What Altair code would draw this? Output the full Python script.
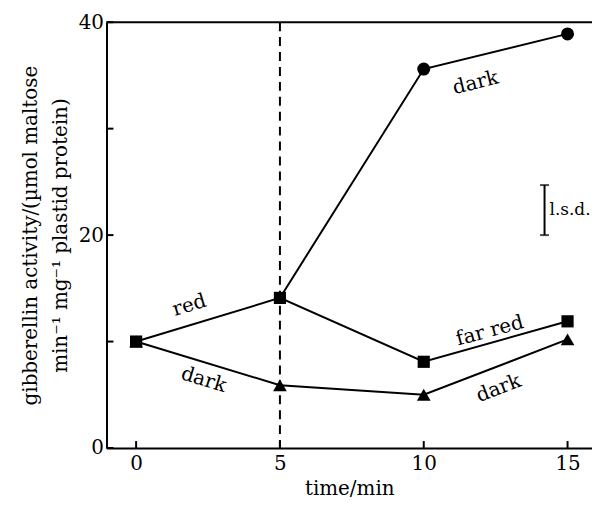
import altair as alt
import pandas as pd

FONT = "DejaVu Serif"

# data series
time_far = [0, 5, 10, 15]
act_far = [10.0, 14.1, 8.1, 11.9]          # red -> far red (squares)
time_dark = [0, 5, 10, 15]
act_dark = [10.0, 5.9, 5.0, 10.2]          # dark (triangles)
time_red_dark = [5, 10, 15]
act_red_dark = [14.1, 35.6, 38.9]          # red -> dark (circles)

lsd_x = [14.2]
lsd_low = [20.0]
lsd_high = [24.7]

y_ticks = [0, 10, 20, 30, 40]
x_ticks = [0, 5, 10, 15]

lab_text = ["red", "dark", "dark", "far red", "dark"]
lab_x = [1.85, 2.35, 11.8, 12.3, 12.6]
lab_y = [13.4, 6.4, 34.3, 11.0, 5.6]
lab_angle = [343, 17, 346, 345, 339]

W, H = 488, 428
xs = alt.Scale(domain=[-1.03, 15.85], nice=False, zero=False)
ys = alt.Scale(domain=[0, 40], nice=False)

df_far = pd.DataFrame({"t": time_far, "v": act_far})
df_dark = pd.DataFrame({"t": time_dark, "v": act_dark})
df_rd = pd.DataFrame({"t": time_red_dark, "v": act_red_dark})
df_rd_pts = df_rd.iloc[1:]

X = alt.X("t:Q", scale=xs, axis=alt.Axis(title="time/min", values=x_ticks, ticks=False,
                                        labelFont=FONT, labelFontSize=20, labelColor="black",
                                        titleFont=FONT, titleFontSize=20, titleFontWeight="normal",
                                        titleColor="black", domainColor="black", domainWidth=2,
                                        labelPadding=6, titlePadding=5, grid=False))
Y = alt.Y("v:Q", scale=ys, axis=alt.Axis(title=["gibberellin activity/(µmol maltose",
                                               "min⁻¹ mg⁻¹ plastid protein)"],
                                        values=[0, 20, 40], ticks=False,
                                        labelFont=FONT, labelFontSize=20, labelColor="black",
                                        titleFont=FONT, titleFontSize=20, titleFontWeight="normal",
                                        titleColor="black", domainColor="black", domainWidth=2,
                                        titleLineHeight=30,
                                        labelPadding=3, titlePadding=8, grid=False))

line_far = alt.Chart(df_far).mark_line(color="black", strokeWidth=2).encode(x=X, y=Y)
pts_far = alt.Chart(df_far).mark_point(shape="square", filled=True, color="black", size=150, opacity=1).encode(x="t:Q", y="v:Q")
line_dark = alt.Chart(df_dark).mark_line(color="black", strokeWidth=2).encode(x="t:Q", y="v:Q")
pts_dark = alt.Chart(df_dark).mark_point(shape="triangle-up", filled=True, color="black", size=190, opacity=1).encode(x="t:Q", y="v:Q")
line_rd = alt.Chart(df_rd).mark_line(color="black", strokeWidth=2).encode(x="t:Q", y="v:Q")
pts_rd = alt.Chart(df_rd_pts).mark_point(shape="circle", filled=True, color="black", size=170, opacity=1).encode(x="t:Q", y="v:Q")

vline = alt.Chart(pd.DataFrame({"t": [5]})).mark_rule(color="black", strokeWidth=2, strokeDash=[9, 6]).encode(
    x="t:Q", y=alt.value(0), y2=alt.value(H))

top_line = alt.Chart(pd.DataFrame({"v": [40]})).mark_rule(color="black", strokeWidth=2).encode(
    y="v:Q", x=alt.value(0), x2=alt.value(W))

yt = alt.Chart(pd.DataFrame({"v": y_ticks})).mark_rule(color="black", strokeWidth=2).encode(
    y="v:Q", x=alt.value(0), x2=alt.value(7))
xt = alt.Chart(pd.DataFrame({"t": x_ticks})).mark_rule(color="black", strokeWidth=2).encode(
    x="t:Q", y=alt.value(H - 7), y2=alt.value(H))

df_lsd = pd.DataFrame({"t": lsd_x, "lo": lsd_low, "hi": lsd_high})
lsd_bar = alt.Chart(df_lsd).mark_rule(color="black", strokeWidth=2).encode(x="t:Q", y="lo:Q", y2="hi:Q")
lsd_caps = alt.Chart(df_lsd).transform_fold(["lo", "hi"], as_=["k", "val"]).mark_tick(
    color="black", thickness=2, size=9, orient="horizontal").encode(x="t:Q", y="val:Q")
lsd_text = alt.Chart(pd.DataFrame({"t": lsd_x, "v": [22.35], "s": ["l.s.d."]})).mark_text(
    align="left", dx=5, font=FONT, fontSize=17, color="black").encode(x="t:Q", y="v:Q", text="s:N")

df_lab = pd.DataFrame({"t": lab_x, "v": lab_y, "s": lab_text, "a": lab_angle})
labels = alt.Chart(df_lab).mark_text(font=FONT, fontSize=20, color="black").encode(
    x="t:Q", y="v:Q", text="s:N", angle=alt.Angle("a:Q", scale=None))

chart = alt.layer(line_far, line_dark, line_rd, vline, top_line, yt, xt,
                  pts_far, pts_dark, pts_rd, lsd_bar, lsd_caps, lsd_text, labels).properties(
    width=W, height=H,
    autosize=alt.AutoSizeParams(type="none"),
    padding={"left": 99, "top": 13, "right": 0, "bottom": 54},
    background="white",
).configure_view(stroke=None)

chart.save("out.html", embed_options={"renderer": "svg", "actions": False})
